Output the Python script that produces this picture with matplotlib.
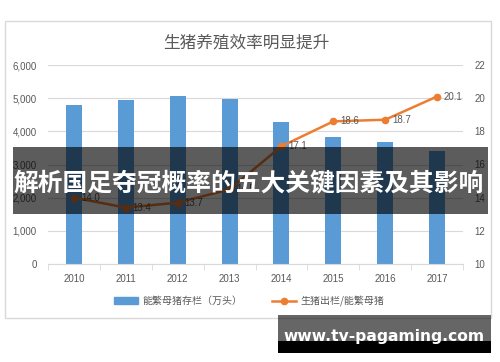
import matplotlib
matplotlib.use("Agg")
import matplotlib.pyplot as plt
from matplotlib.patches import Rectangle
from matplotlib.lines import Line2D

plt.rcParams['font.family'] = ['Liberation Sans', 'Noto Sans CJK SC', 'DejaVu Sans']

years = ['2010', '2011', '2012', '2013', '2014', '2015', '2016', '2017']
sows = [4780, 4930, 5080, 4960, 4290, 3820, 3690, 3420]
ratio = [14.0, 13.4, 13.7, 14.5, 17.1, 18.6, 18.7, 20.1]
left_ticks = [0, 1000, 2000, 3000, 4000, 5000, 6000]
right_ticks = [10, 12, 14, 16, 18, 20, 22]

title = '生猪养殖效率明显提升'
bar_label = '能繁母猪存栏（万头）'
line_label = '生猪出栏/能繁母猪'
banner = '解析国足夺冠概率的五大关键因素及其影响'
watermark = 'www.tv-pagaming.com'

W, H = 500, 362
fig = plt.figure(figsize=(5, 3.62), dpi=100)
fig.patch.set_facecolor('white')

def fx(px):
    return px / W

def fy(py):
    return 1 - py / H

# chart border
fig.add_artist(Rectangle((fx(5), fy(318)), fx(491) - fx(5), fy(21) - fy(318),
                         transform=fig.transFigure, facecolor='white',
                         edgecolor='#D9D9D9', linewidth=1.0, zorder=0))

ax = fig.add_axes([fx(48), fy(264), fx(463) - fx(48), fy(65) - fy(264)])
ax.set_facecolor('none')
grey = '#595959'
x = list(range(len(years)))
ax.bar(x, sows, width=0.31, color='#5B9BD5', zorder=2)
ax.set_xlim(-0.5, len(years) - 0.5)
ax.set_ylim(0, 6000)
ax.set_yticks(left_ticks)
ax.set_yticklabels([f'{v:,}' for v in left_ticks])
ax.grid(axis='y', color='#D9D9D9', linewidth=0.8, zorder=0)
ax.set_axisbelow(True)
for s in ['left', 'right', 'top']:
    ax.spines[s].set_visible(False)
ax.spines['bottom'].set_color('#D9D9D9')
ax.set_xticks(x)
ax.set_xticklabels(years)
ax.set_xticks([i - 0.5 for i in range(len(years) + 1)], minor=True)
ax.tick_params(axis='x', which='major', length=0, pad=7, labelsize=7, labelcolor=grey)
ax.tick_params(axis='x', which='minor', length=4, color='#D9D9D9')
ax.tick_params(axis='y', length=0, pad=8, labelsize=7, labelcolor=grey)

ax2 = ax.twinx()
ax2.set_ylim(10, 22)
ax2.set_yticks(right_ticks)
for s in ['left', 'right', 'top', 'bottom']:
    ax2.spines[s].set_visible(False)
ax2.tick_params(axis='y', length=0, pad=8, labelsize=7, labelcolor=grey)
ax2.plot(x, ratio, color='#ED7D31', linewidth=1.8, marker='o', markersize=4.5, zorder=3)
for xi, v in zip(x, ratio):
    ax2.annotate(f'{v:.1f}', (xi, v), xytext=(5, 0), textcoords='offset points',
                 ha='left', va='center', fontsize=7, color=grey)

fig.text(fx(246), fy(43), title, ha='center', va='center', fontsize=12,
         color=grey, family=['Noto Sans CJK SC', 'DejaVu Sans'])

handles = [Rectangle((0, 0), 1, 1, color='#5B9BD5'),
           Line2D([0], [0], color='#ED7D31', linewidth=1.8, marker='o', markersize=4.5)]
leg = fig.legend(handles, [bar_label, line_label], loc='center', ncol=2,
                 bbox_to_anchor=(fx(249), fy(301)), frameon=False,
                 prop={'family': ['Noto Sans CJK SC', 'DejaVu Sans'], 'size': 7.2},
                 handlelength=2.4, handleheight=0.6, columnspacing=3.0, handletextpad=0.4)
for t in leg.get_texts():
    t.set_color(grey)

# banner overlay
fig.add_artist(Rectangle((fx(13), fy(214)), fx(488) - fx(13), fy(147) - fy(214),
                         transform=fig.transFigure, facecolor='black', alpha=0.64,
                         edgecolor='none', zorder=10))
fig.text(fx(249), fy(183), banner, ha='center', va='center', fontsize=17.8,
         fontweight='bold', color='white', zorder=11,
         family=['Noto Sans CJK SC', 'DejaVu Sans'])

# watermark
fig.add_artist(Rectangle((fx(278), fy(341)), fx(491) - fx(278), fy(315) - fy(341),
                         transform=fig.transFigure, facecolor='black', alpha=0.6,
                         edgecolor='none', zorder=10))
fig.add_artist(Rectangle((fx(278), fy(353)), fx(491) - fx(278), fy(341) - fy(353),
                         transform=fig.transFigure, facecolor='black',
                         edgecolor='none', zorder=10))
fig.text(fx(384), fy(336), watermark, ha='center', va='center', fontsize=11.2,
         fontweight='bold', color='white', zorder=11, family=['DejaVu Sans'])

fig.savefig('out.png', dpi=100, facecolor='white')
